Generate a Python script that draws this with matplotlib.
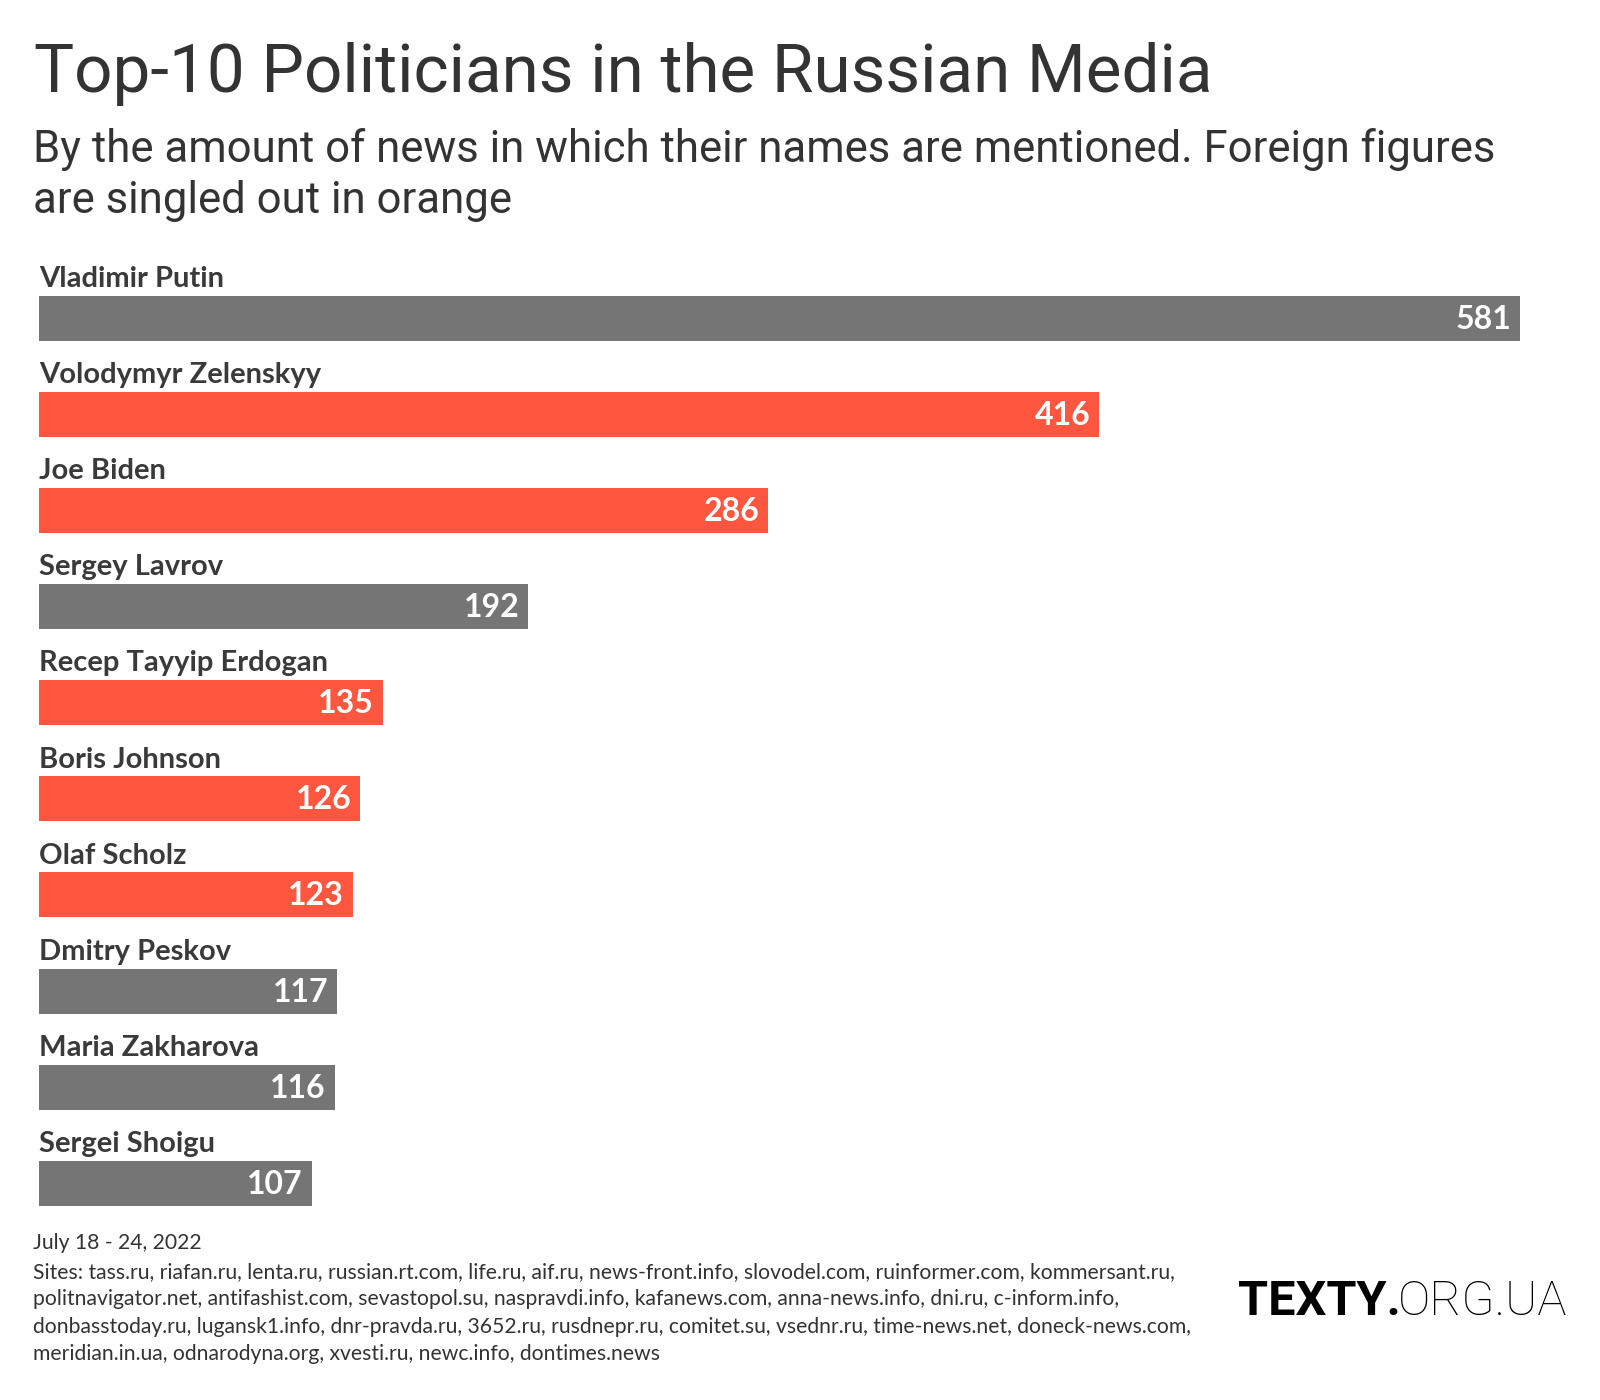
import matplotlib
matplotlib.use("Agg")
import matplotlib.pyplot as plt

names = ["Vladimir Putin", "Volodymyr Zelenskyy", "Joe Biden", "Sergey Lavrov",
         "Recep Tayyip Erdogan", "Boris Johnson", "Olaf Scholz", "Dmitry Peskov",
         "Maria Zakharova", "Sergei Shoigu"]
mentions = [581, 416, 286, 192, 135, 126, 123, 117, 116, 107]
foreign = [False, True, True, False, True, True, True, False, False, False]

title = "Top-10 Politicians in the Russian Media"
subtitle = ["By the amount of news in which their names are mentioned. Foreign figures",
            "are singled out in orange"]
period = "July 18 - 24, 2022"
sites = ["Sites: tass.ru, riafan.ru, lenta.ru, russian.rt.com, life.ru, aif.ru, news-front.info, slovodel.com, ruinformer.com, kommersant.ru,",
         "politnavigator.net, antifashist.com, sevastopol.su, naspravdi.info, kafanews.com, anna-news.info, dni.ru, c-inform.info,",
         "donbasstoday.ru, lugansk1.info, dnr-pravda.ru, 3652.ru, rusdnepr.ru, comitet.su, vsednr.ru, time-news.net, doneck-news.com,",
         "meridian.in.ua, odnarodyna.org, xvesti.ru, newc.info, dontimes.news"]

GREY = "#757575"
RED = "#ff5640"
TEXT = "#333333"
W, H = 1600, 1400

fig = plt.figure(figsize=(16, 14), dpi=100)
fig.patch.set_facecolor("white")

ax = fig.add_axes([39 / W, (H - 1241) / H, (1520 - 39) / W, 1019 / H])
ax.set_xlim(0, max(mentions))
ax.set_ylim(9.6, -1.0)
ax.axis("off")

ys = list(range(len(names)))
colors = [RED if f else GREY for f in foreign]
ax.barh(ys, mentions, height=0.468, color=colors, left=0)

label_font = ["Lato", "DejaVu Sans"]
for y, n, v in zip(ys, names, mentions):
    ax.text(0, y - 0.325, n, ha="left", va="baseline", fontsize=21,
            fontweight="bold", color="#3a3a3a", family=label_font)
    ax.annotate(str(v), (v, y), xytext=(-9, -1), textcoords="offset pixels",
                ha="right", va="center", fontsize=23, fontweight="bold",
                color="white", family=label_font)

head = ["Roboto", "DejaVu Sans"]
fig.text(34 / W, 1 - 92 / H, title, ha="left", va="baseline", fontsize=48.5,
         color=TEXT, family=head)
for i, line in enumerate(subtitle):
    fig.text(33 / W, 1 - (162 + 51 * i) / H, line, ha="left", va="baseline",
             fontsize=31.5, color=TEXT, family=head)

fig.text(33 / W, 1 - 1243 / H, period, ha="left", va="center", fontsize=15.2,
         color=TEXT, family=label_font)
for i, line in enumerate(sites):
    fig.text(33 / W, 1 - (1272 + 27.4 * i) / H, line, ha="left", va="center",
             fontsize=15.2, color=TEXT, family=label_font)

logo_y = 1 - 1315 / H
t = fig.text(1238 / W, logo_y, "TEXTY.", ha="left", va="baseline", fontsize=35,
             fontweight="bold", color="black", family=["Roboto", "DejaVu Sans"])
fig.canvas.draw()
bb = t.get_window_extent()
fig.text(bb.x1 / W - 0.002, logo_y, "ORG.UA", ha="left", va="baseline", fontsize=35,
         fontweight="light", color="black", family=["Roboto", "DejaVu Sans"])

fig.savefig("out.png", dpi=100, facecolor="white")
